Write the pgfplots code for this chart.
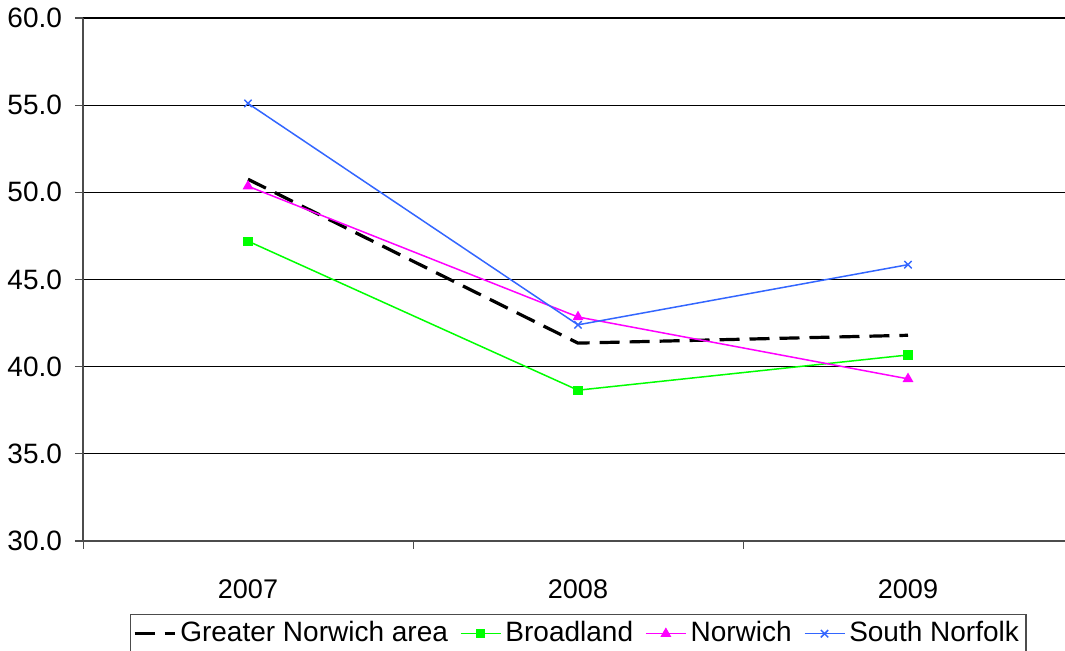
\documentclass[border=0pt]{standalone}
\usepackage{pgfplots}
\pgfplotsset{compat=1.18}
\usepackage{fontspec}
\setmainfont{Liberation Sans}
\definecolor{cgreen}{RGB}{0,255,0}
\definecolor{cmag}{RGB}{255,0,255}
\definecolor{cblue}{RGB}{51,102,255}
\begin{document}
\fontsize{13}{15}\selectfont
\begin{tikzpicture}
\path[use as bounding box] (0,0) rectangle (532.5pt,325.5pt);
\begin{scope}
\clip (0,0) rectangle (532.5pt,325.5pt);
\begin{axis}[
  scale only axis,
  width=495pt, height=261.5pt,
  at={(41.5pt,55pt)}, anchor=south west,
  xmin=-0.5, xmax=2.5,
  ymin=30, ymax=60,
  ytick={30,35,...,60},
  /pgf/number format/fixed,
  /pgf/number format/fixed zerofill,
  /pgf/number format/precision=1,
  /pgf/number format/assume math mode=true,
  yticklabel style={font=\fontsize{14}{16}\selectfont, xshift=-2pt},
  xtick={0,1,2},
  xticklabels={2007,2008,2009},
  xticklabel style={font=\fontsize{13.5}{15}\selectfont, yshift=-11pt},
  x tick style={draw=none},
  minor xtick={-0.5,0.5,1.5,2.5},
  minor x tick style={draw=black!70, line width=0.5pt},
  tick align=outside,
  major tick length=4pt, minor tick length=4pt,
  axis x line*=bottom, axis y line*=left,
  axis line style={draw=black!70, line width=0.8pt, -},
  y tick style={draw=black!70, line width=0.6pt},
  ymajorgrids,
  grid style={black, line width=0.6pt},
  clip=false,
  legend columns=4,
  legend style={at={(247.5pt,-36.5pt)}, anchor=north, draw=black!70, line width=0.6pt,
    font=\fontsize{14}{16}\selectfont, inner sep=1.5pt,
    /tikz/every even column/.append style={column sep=4pt}},
  legend image code/.code={\draw[mark repeat=2,mark phase=2,#1] plot coordinates {(0pt,0pt) (10pt,0pt) (20pt,0pt)};},
]
\addplot[black, line width=1.6pt, dash pattern=on 10pt off 5pt] coordinates {(0,50.75) (1,41.35) (2,41.8)};
\addlegendentry{Greater Norwich area}
\addplot[cgreen, line width=0.75pt, mark=square*, mark size=1.9pt] coordinates {(0,47.2) (1,38.65) (2,40.67)};
\addlegendentry{Broadland}
\addplot[cmag, line width=0.75pt, mark=triangle*, mark size=2.4pt] coordinates {(0,50.35) (1,42.85) (2,39.3)};
\addlegendentry{Norwich}
\addplot[cblue, line width=0.75pt, mark=x, mark size=2.6pt] coordinates {(0,55.1) (1,42.4) (2,45.85)};
\addlegendentry{South Norfolk}
\end{axis}
\end{scope}
\end{tikzpicture}
\end{document}
